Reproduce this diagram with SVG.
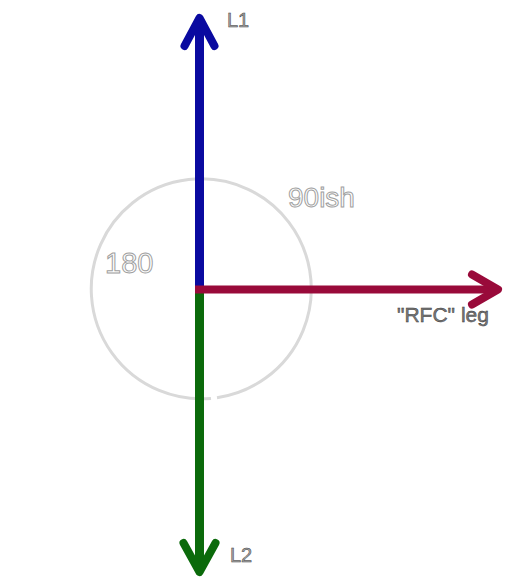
<svg xmlns="http://www.w3.org/2000/svg" width="512" height="579" viewBox="0 0 512 579">
<style>
.lbl{font-family:"Liberation Sans",Arial,sans-serif}
.dark{fill:#a8a8a8;stroke:#3c3c3c;stroke-width:0.5}
.light{fill:#ffffff;stroke:#a0a0a0;stroke-width:1}
.rfc{fill:#7a7a7a;stroke:#333333;stroke-width:0.45}
.leg{fill:none;stroke-linecap:butt}
</style>
<defs>
<marker id="hb" viewBox="-36 -22 42 44" markerWidth="42" markerHeight="44" refX="-3" refY="0" orient="auto" markerUnits="userSpaceOnUse"><path d="M -28 -15 L 0 0 L -28 15" fill="none" stroke="#0a0aa0" stroke-width="8" stroke-linecap="round" stroke-linejoin="round"/></marker>
<marker id="hg" viewBox="-36 -22 42 44" markerWidth="42" markerHeight="44" refX="-3" refY="0" orient="auto" markerUnits="userSpaceOnUse"><path d="M -29 -16 L 0 0 L -29 16" fill="none" stroke="#0b6a0b" stroke-width="8" stroke-linecap="round" stroke-linejoin="round"/></marker>
<marker id="hr" viewBox="-36 -22 42 44" markerWidth="42" markerHeight="44" refX="-3" refY="0" orient="auto" markerUnits="userSpaceOnUse"><path d="M -26 -15 L 0 0 L -26 15" fill="none" stroke="#990a3a" stroke-width="8" stroke-linecap="round" stroke-linejoin="round"/></marker>
</defs>
<g id="circle"><path d="M 211 398.4 A 110 110 0 1 1 217 397.7" fill="none" stroke="#d9d9d9" stroke-width="3"/></g>
<g id="connectors">
<path id="L1-leg" class="leg" d="M 199.5 289 V 21" stroke="#0a0aa0" stroke-width="9" marker-end="url(#hb)"/>
<path id="L2-leg" class="leg" d="M 199.5 289 V 569" stroke="#0b6a0b" stroke-width="9" marker-end="url(#hg)"/>
<path id="RFC-leg" class="leg" d="M 195 289.5 H 495" stroke="#990a3a" stroke-width="8" marker-end="url(#hr)"/>
</g>
<g id="label-L1"><text class="lbl dark" x="227" y="27" font-size="20">L1</text></g>
<g id="label-L2"><text class="lbl dark" x="230" y="562" font-size="20">L2</text></g>
<g id="label-90ish"><text class="lbl light" x="288" y="207" font-size="28">90ish</text></g>
<g id="label-180"><text class="lbl light" x="105" y="273" font-size="29">180</text></g>
<g id="label-RFC"><text class="lbl rfc" x="397" y="322" font-size="21">"RFC" leg</text></g>
</svg>
